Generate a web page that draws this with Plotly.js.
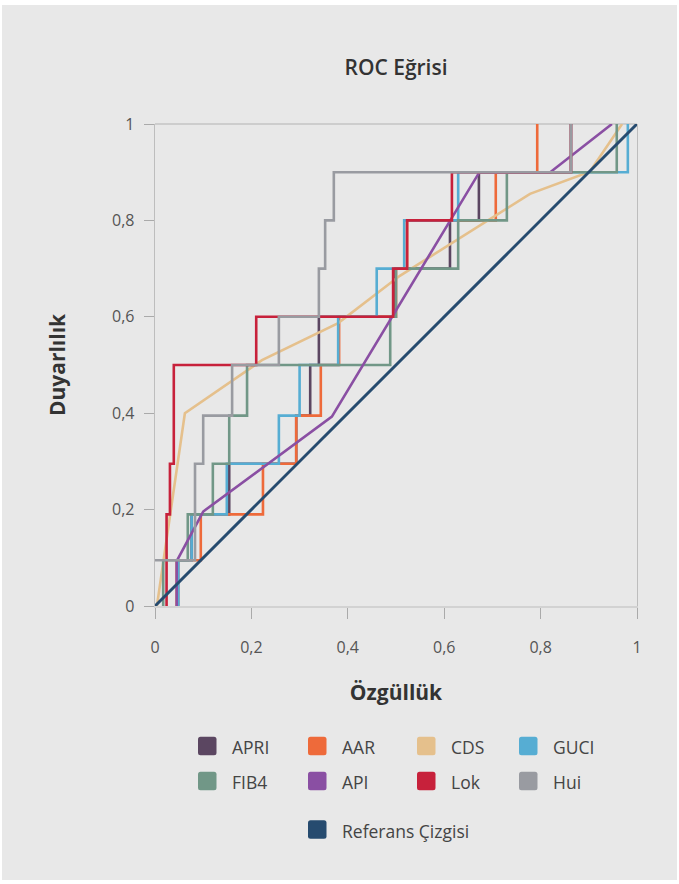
<!DOCTYPE html>
<html>
<head>
<meta charset="utf-8">
<script src="https://cdn.plot.ly/plotly-3.0.1.min.js"></script>
<style>
  html, body { margin:0; padding:0; background:#ffffff; }
  #chart { position:absolute; left:2px; top:5px; width:675px; height:875px; }
</style>
</head>
<body>
<div id="chart"></div>
<script>
// ---- data ----
const seriesNames = ['APRI','AAR','CDS','GUCI','FIB4','API','Lok','Hui','Referans Çizgisi'];

const apriX = [0.048,0.048,0.076,0.076,0.154,0.154,0.293,0.293,0.322,0.322,0.34,0.34,0.498,0.498,0.612,0.612,0.672,0.672,0.863,0.863];
const apriY = [0,0.095,0.095,0.19,0.19,0.295,0.295,0.395,0.395,0.5,0.5,0.6,0.6,0.7,0.7,0.8,0.8,0.9,0.9,1];

const aarX = [0.045,0.045,0.095,0.095,0.224,0.224,0.293,0.293,0.344,0.344,0.382,0.382,0.5,0.5,0.523,0.523,0.707,0.707,0.793,0.793];
const aarY = [0,0.095,0.095,0.19,0.19,0.295,0.295,0.395,0.395,0.5,0.5,0.6,0.6,0.7,0.7,0.8,0.8,0.9,0.9,1];

const cdsX = [0.004,0.062,0.222,0.38,0.508,0.778,0.902,0.969];
const cdsY = [0,0.40,0.51,0.587,0.685,0.855,0.901,1];

const guciX = [0.048,0.048,0.076,0.076,0.149,0.149,0.257,0.257,0.30,0.30,0.38,0.38,0.46,0.46,0.517,0.517,0.629,0.629,0.981,0.981];
const guciY = [0,0.095,0.095,0.19,0.19,0.295,0.295,0.395,0.395,0.5,0.5,0.6,0.6,0.7,0.7,0.8,0.8,0.9,0.9,1];

const fib4X = [0.017,0.017,0.068,0.068,0.12,0.12,0.154,0.154,0.191,0.191,0.488,0.488,0.50,0.50,0.629,0.629,0.73,0.73,0.958,0.958];
const fib4Y = [0,0.095,0.095,0.19,0.19,0.295,0.295,0.395,0.395,0.5,0.5,0.6,0.6,0.7,0.7,0.8,0.8,0.9,0.9,1];

const apiX = [0.045,0.045,0.10,0.367,0.673,0.82,0.948];
const apiY = [0,0.093,0.196,0.393,0.9,0.9,1];

const lokX = [0.024,0.024,0.031,0.031,0.039,0.039,0.21,0.21,0.494,0.494,0.523,0.523,0.616,0.616,0.863,0.863];
const lokY = [0,0.19,0.19,0.295,0.295,0.5,0.5,0.6,0.6,0.7,0.7,0.8,0.8,0.9,0.9,1];

const huiX = [0,0.083,0.083,0.10,0.10,0.16,0.16,0.257,0.257,0.34,0.34,0.353,0.353,0.371,0.371,0.863,0.863];
const huiY = [0.095,0.095,0.295,0.295,0.395,0.395,0.5,0.5,0.6,0.6,0.7,0.7,0.8,0.8,0.9,0.9,1];

const refX = [0,1];
const refY = [0,1];

const tickVals = [0,0.2,0.4,0.6,0.8,1];

// ---- styles ----
const colors = {
  'APRI':'#5b4661','AAR':'#ee6a3a','CDS':'#e5c08c','GUCI':'#56add3',
  'FIB4':'#719787','API':'#8a4fa3','Lok':'#c7213b','Hui':'#999ba1',
  'Referans Çizgisi':'#264b6f'
};
const dataXY = {
  'APRI':[apriX,apriY],'AAR':[aarX,aarY],'CDS':[cdsX,cdsY],'GUCI':[guciX,guciY],
  'FIB4':[fib4X,fib4Y],'API':[apiX,apiY],'Lok':[lokX,lokY],'Hui':[huiX,huiY],
  'Referans Çizgisi':[refX,refY]
};

const traces = seriesNames.map(n => ({
  type:'scatter', mode:'lines', name:n,
  x:dataXY[n][0], y:dataXY[n][1],
  line:{color:colors[n], width: n==='Referans Çizgisi' ? 3 : 2.6},
  showlegend:false, hoverinfo:'x+y+name'
}));

// ---- layout geometry (page pixels) ----
const PX0 = 155, PY0 = 606, PW = 482, PH = 482;
const px2x = p => (p - PX0) / PW;
const py2y = p => (PY0 - p) / PH;

function swatch(px, pyc, size, r, color){
  const x0 = px2x(px), x1 = px2x(px+size);
  const y1 = py2y(pyc - size/2), y0 = py2y(pyc + size/2);
  const rr = r / PW;
  const path = `M ${x0+rr},${y0} L ${x1-rr},${y0} Q ${x1},${y0} ${x1},${y0+rr} L ${x1},${y1-rr} Q ${x1},${y1} ${x1-rr},${y1} L ${x0+rr},${y1} Q ${x0},${y1} ${x0},${y1-rr} L ${x0},${y0+rr} Q ${x0},${y0} ${x0+rr},${y0} Z`;
  return {type:'path', xref:'paper', yref:'paper', path:path, fillcolor:color, line:{width:0}, layer:'above'};
}

const legendItems = [
  ['APRI',198,746],['AAR',308,746],['CDS',417,746],['GUCI',519,746],
  ['FIB4',198,781],['API',308,781],['Lok',417,781],['Hui',519,781],
  ['Referans Çizgisi',308,829.5]
];

const shapes = [
  // top frame line
  {type:'line', xref:'paper', yref:'paper', x0:0, x1:1, y0:1, y1:1, line:{color:'#c4c4c4', width:1.3}, layer:'below'}
];
const annotations = [];
legendItems.forEach(([n,px,py]) => {
  shapes.push(swatch(px, py, 18.5, 2.5, colors[n]));
  annotations.push({
    xref:'paper', yref:'paper', x:px2x(px+32), y:py2y(py+1),
    xanchor:'left', yanchor:'middle', showarrow:false, text:n,
    font:{family:'Open Sans', size:17.5, color:'#444'}
  });
});

const layout = {
  width:675, height:875,
  paper_bgcolor:'#e8e8e8', plot_bgcolor:'#e8e8e8',
  margin:{l:PX0-2, r:677-(PX0+PW), t:(PY0-PH)-5, b:880-PY0, pad:0},
  separators:',.',
  font:{family:'Open Sans', color:'#555'},
  title:{text:'ROC Eğrisi', xref:'paper', x:0.5, xanchor:'center',
         yref:'container', y:1-(68-5)/875, yanchor:'middle',
         font:{family:'Open Sans', size:21, color:'#333', weight:600}},
  xaxis:{range:[0,1], tickvals:tickVals, ticks:'outside', ticklen:11, tickwidth:1, tickcolor:'#aaaaaa',
         showline:true, linecolor:'#d2d2d2', linewidth:2, mirror:false,
         showgrid:false, zeroline:false, fixedrange:true,
         tickfont:{family:'Open Sans', size:16, color:'#555'}, ticklabelstandoff:15,
         title:{text:'Özgüllük', standoff:28, font:{family:'Open Sans', size:21, color:'#333', weight:700}}},
  yaxis:{range:[0,1], tickvals:tickVals, ticks:'outside', ticklen:10, tickwidth:1, tickcolor:'#aaaaaa',
         showline:true, linecolor:'#bdbdbd', linewidth:1.3, mirror:true,
         showgrid:false, zeroline:false, fixedrange:true,
         tickfont:{family:'Open Sans', size:16, color:'#555'}, ticklabelstandoff:6,
         title:{text:'Duyarlılık', standoff:40, font:{family:'Open Sans', size:21, color:'#333', weight:700}}},
  shapes:shapes,
  annotations:annotations,
  showlegend:false
};

Plotly.newPlot('chart', traces, layout, {displayModeBar:false, staticPlot:true});
</script>
</body>
</html>
